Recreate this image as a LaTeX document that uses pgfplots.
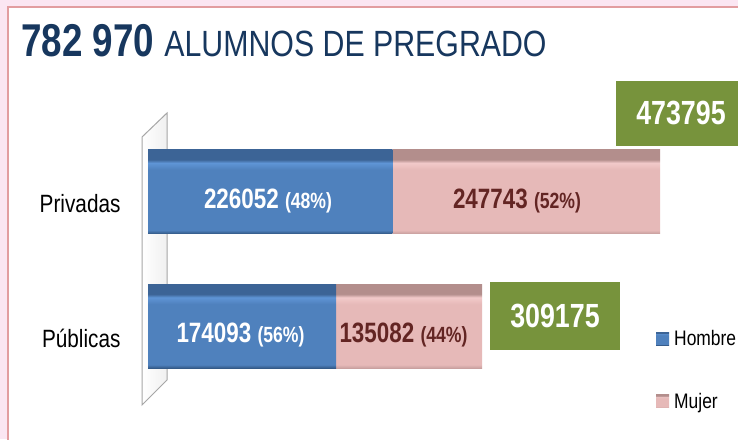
\documentclass[border=0pt]{standalone}
\usepackage{pgfplots}
\pgfplotsset{compat=1.18}
\usepackage{fontspec}
\setmainfont{Liberation Sans}
\newfontfamily\narrow[FakeStretch=0.83]{Liberation Sans}
\newfontfamily\narrowb[FakeStretch=0.80]{Liberation Sans}

\definecolor{navy}{HTML}{17375E}
\definecolor{bM}{HTML}{4F81BD}
\definecolor{bT}{HTML}{3C6496}
\definecolor{bH}{HTML}{5F95D6}
\definecolor{bB}{HTML}{345A88}
\definecolor{pM}{HTML}{E6B9B8}
\definecolor{pT}{HTML}{B38E8C}
\definecolor{pH}{HTML}{F2CACA}
\definecolor{pB}{HTML}{C9A09F}
\definecolor{darkred}{HTML}{632523}
\definecolor{olive}{HTML}{77933C}
\definecolor{frame}{HTML}{E29DA0}
\definecolor{outside}{HTML}{FBE6F2}

% vertical 3D-ish look of the bars (visible part: 25bp..75bp)
\pgfdeclareverticalshading{bluebar}{100bp}{color(0bp)=(bB); color(25bp)=(bB); color(27bp)=(bM); color(63bp)=(bM); color(67bp)=(bH); color(69bp)=(bT); color(75bp)=(bT); color(100bp)=(bT)}
\pgfdeclareverticalshading{pinkbar}{100bp}{color(0bp)=(pB); color(25bp)=(pB); color(27bp)=(pM); color(63bp)=(pM); color(67bp)=(pH); color(69bp)=(pT); color(75bp)=(pT); color(100bp)=(pT)}

\newcommand\bignum{\narrowb\bfseries\fontsize{28}{30}\selectfont}
\newcommand\pct{\narrowb\bfseries\fontsize{22}{24}\selectfont}

% one axis per category, same geometry, so each bar gets its own shading
\pgfplotsset{
  barframe/.style={
    at={(148pt,30pt)}, anchor=south west,
    scale only axis, width=590pt, height=300pt,
    xbar stacked, bar width=84pt,
    xmin=0, xmax=545976, ymin=-0.617, ymax=1.6134,
    axis x line=none,
    axis y line*=left, y axis line style={draw=none},
    major tick length=0pt,
    yticklabel style={font=\narrow\fontsize{25}{28}\selectfont, text=black, xshift=-24pt, yshift=-12pt},
    clip=false,
  },
  hombre/.style={draw=none, shade, shading=bluebar},
  mujer/.style={draw=none, shade, shading=pinkbar},
}
\tikzset{
  total/.style={fill=olive, minimum width=130pt, text=white,
    font=\narrowb\bfseries\fontsize{33.5}{36}\selectfont},
  inbar/.style={anchor=base, yshift=-16.5pt},
}

\begin{document}
\begin{tikzpicture}[x=1pt,y=1pt]
\clip (0,0) rectangle (738,439);
\fill[outside] (0,0) rectangle (738,439);
\draw[frame, line width=2pt, fill=white] (8,-10) rectangle (760,432);

% title
\node[anchor=base west, inner sep=0pt, text=navy] at (21,382)
  {\narrowb\bfseries\fontsize{46}{50}\selectfont 782 970\ \narrow\mdseries\fontsize{36.5}{40}\selectfont ALUMNOS DE PREGRADO};

% 3D wall at the left of the bars
\shade[left color=white, right color=gray!12] (142,34) -- (142,302) -- (167,326) -- (167,59) -- cycle;
\draw[gray!70, line width=1pt] (142,34) -- (142,302) -- (167,326) -- (167,59) -- cycle;

% Privadas
\begin{axis}[barframe, ytick={1}, yticklabels={Privadas}]
\addplot[hombre] coordinates {(226052,1)};
\addplot[mujer] coordinates {(247743,1)};
\coordinate (h1) at (axis cs:111046,1);
\coordinate (m1) at (axis cs:341465,1);
\coordinate (t1) at (axis cs:493228,1.58);
\end{axis}

% Públicas
\begin{axis}[barframe, ytick={0}, yticklabels={Públicas},
  legend image code/.code={\draw[#1, draw=none] (0pt,-6.5pt) rectangle (13pt,6.5pt);},
  legend style={at={(rel axis cs:0.861,0.27)}, anchor=north west, draw=none, fill=none,
    font=\narrow\fontsize{21}{24}\selectfont, row sep=42pt, inner sep=0pt,
    nodes={inner sep=2pt}, column sep=3pt},
  legend cell align=left]
\addplot[hombre] coordinates {(174093,0)};
\addplot[mujer] coordinates {(135082,0)};
\legend{Hombre, Mujer}
\coordinate (h0) at (axis cs:85598,0);
\coordinate (m0) at (axis cs:236435,0);
\coordinate (t0) at (axis cs:376630,0.074);
\end{axis}

% values inside the bars and totals
\node[inbar, text=white] at (h1) {\bignum 226052 \pct(48\%)};
\node[inbar, text=darkred] at (m1) {\bignum 247743 \pct(52\%)};
\node[inbar, text=white] at (h0) {\bignum 174093 \pct(56\%)};
\node[inbar, text=darkred] at (m0) {\bignum 135082 \pct(44\%)};
\node[total, minimum height=65pt] at (t1) {473795};
\node[total, minimum height=68pt] at (t0) {309175};
\end{tikzpicture}
\end{document}
